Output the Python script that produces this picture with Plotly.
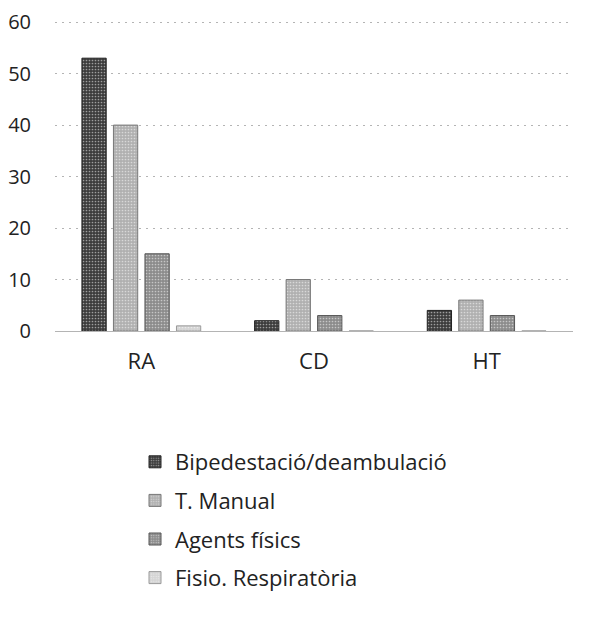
import plotly.graph_objects as go

categories = ["RA", "CD", "HT"]
series_names = ["Bipedestació/deambulació", "T. Manual", "Agents físics", "Fisio. Respiratòria"]
bipedestacio = [53, 2, 4]
t_manual = [40, 10, 6]
agents_fisics = [15, 3, 3]
fisio_resp = [1, 0, 0]
y_ticks = [0, 10, 20, 30, 40, 50, 60]

values = [bipedestacio, t_manual, agents_fisics, fisio_resp]
colors = ["#3c3c3c", "#b0b0b0", "#8c8c8c", "#d4d4d4"]
line_colors = ["#222222", "#777777", "#555555", "#999999"]

fig = go.Figure()
for i, (name, vals) in enumerate(zip(series_names, values)):
    fig.add_trace(go.Bar(
        x=categories, y=vals, name=name,
        legendgroup=f"g{i}",
        marker=dict(color=colors[i], line=dict(color=line_colors[i], width=1),
                    pattern=dict(shape=".", fgcolor="#ffffff", bgcolor=colors[i], size=3, solidity=0.25)),
    ))

fig.update_layout(
    width=609, height=626,
    margin=dict(l=47, r=44, t=9, b=303, autoexpand=False),
    plot_bgcolor="white", paper_bgcolor="white",
    barmode="group", bargap=0.27, bargroupgap=0.23,
    font=dict(family="Open Sans, Noto Sans, sans-serif", size=21, color="#222"),
    showlegend=True,
    legend=dict(x=127 / 609, y=1 - 433 / 626, xref="container", yref="container",
                xanchor="left", yanchor="top", orientation="v",
                traceorder="grouped", tracegroupgap=7, font=dict(size=22),
                itemwidth=30),
    xaxis=dict(showline=False, ticks="", tickfont=dict(size=22), automargin=False,
               ticklabelstandoff=15),
    yaxis=dict(range=[0, 61], tickvals=y_ticks, showgrid=True, gridcolor="#b4b4b4",
               griddash="2px,5px", gridwidth=1, zeroline=True, zerolinecolor="#b4b4b4",
               zerolinewidth=1, ticks="", tickfont=dict(size=20), ticklabelstandoff=23,
               automargin=False),
)

fig.write_html("out.html")
